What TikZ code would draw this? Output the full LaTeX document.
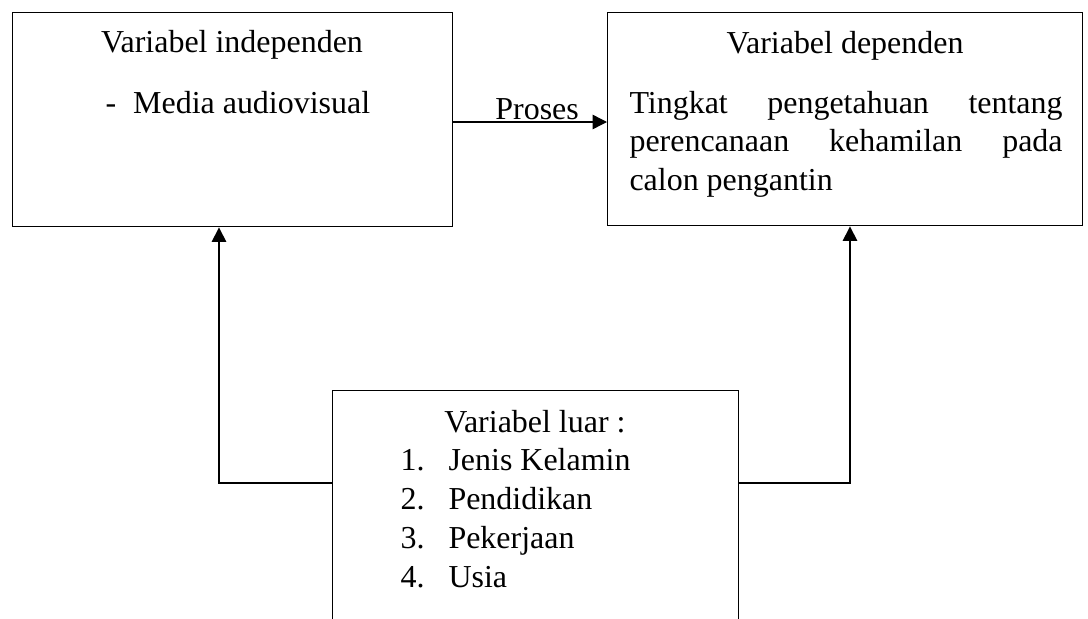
\documentclass[tikz,border=0pt]{standalone}
\usepackage{fontspec}
\setmainfont{Liberation Serif}
\usetikzlibrary{arrows.meta,positioning,calc}

\def\px{0.3817pt}

\begin{document}
\begin{tikzpicture}[x=\px,y=-\px,
  box/.style={draw,line width=0.55pt,inner sep=0pt,anchor=north west},
  txt/.style={anchor=base,inner sep=0pt,font=\fontsize{12.2}{14.7}\selectfont},
  link/.style={line width=0.55pt,-{Triangle[length=5.5pt,width=5.5pt]}}]
\useasboundingbox (0,0) rectangle (1088,619);
\clip (0,0) rectangle (1088,619);

% boxes
\node[box,minimum width=440*\px,minimum height=214*\px] (indep) at (12,12) {};
\node[box,minimum width=475*\px,minimum height=213*\px] (dep) at (607,12) {};
\node[box,minimum width=406*\px,minimum height=270*\px] (luar) at (332,390) {};

% texts
\node[txt] (indepT) at (232,52) {Variabel independen};
\node[txt,anchor=base west] (media) at (105,113) {-\hspace{6.5pt}Media audiovisual};

\node[txt] (depT) at (845,53) {Variabel dependen};
\node[txt,anchor=base west] (tingkat) at (629,113)
  {\parbox[t]{165.3pt}{Tingkat\hfill pengetahuan\hfill tentang\\
   perencanaan\hfill kehamilan\hfill pada\\
   calon pengantin}};

\node[txt] (luarT) at (535,432) {Variabel luar :};
\foreach \n/\t [count=\i] in
{   1/Jenis Kelamin,
    2/Pendidikan,
    3/Pekerjaan,
    4/Usia
}
{
    \node[txt,anchor=base west] (num\i) at (400,431+39*\i) {\n.};
    \node[txt,anchor=base west] (item\i) at (448,431+39*\i) {\t};
};

% connectors
\draw[link] (indep.east |- 0,122) -- node[txt,pos=0.545,yshift=0.8pt] (proses) {Proses} (dep.west |- 0,122);
\draw[link] (luar.west |- 0,483) -| (indep.south -| 219,0);
\draw[link] (luar.east |- 0,483) -| (dep.south -| 850,0);

\end{tikzpicture}
\end{document}
